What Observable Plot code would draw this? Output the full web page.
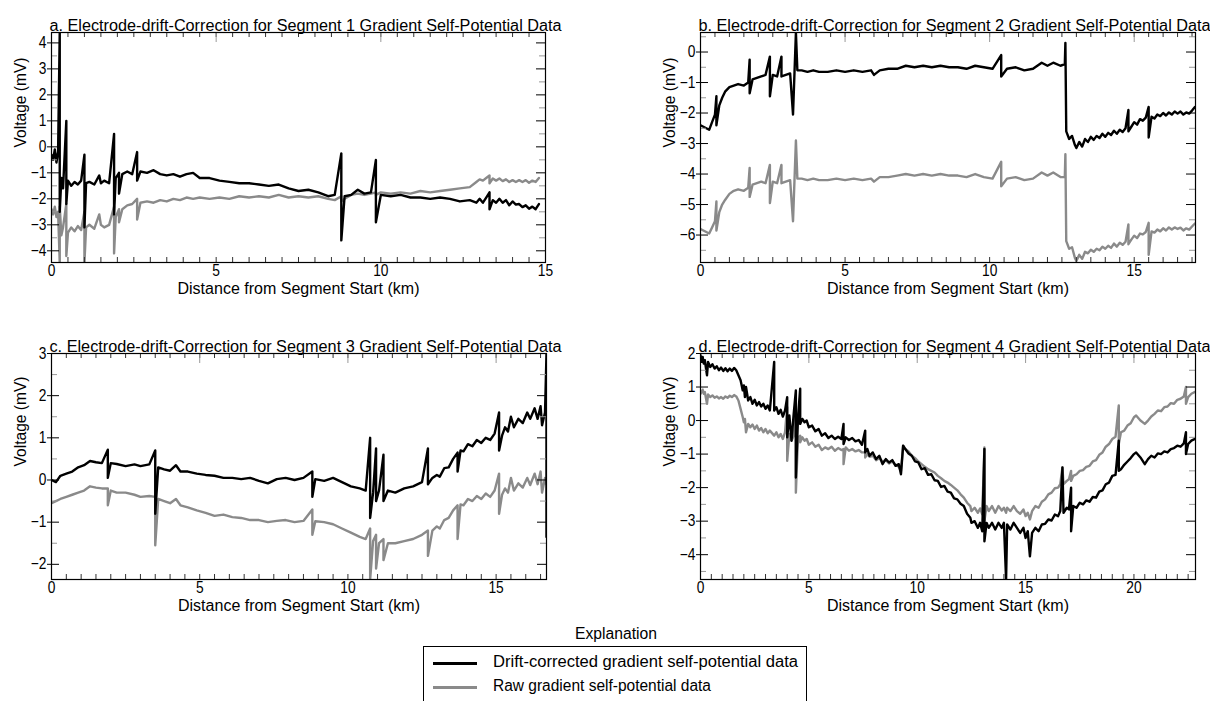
<!DOCTYPE html>
<html><head><meta charset="utf-8">
<script src="https://cdn.jsdelivr.net/npm/d3@7"></script>
<script src="https://cdn.jsdelivr.net/npm/@observablehq/plot@0.6"></script>
<style>
html,body{margin:0;padding:0;background:#fff;overflow:hidden;width:1210px;height:701px;}
#root{position:relative;width:1210px;height:701px;}
.panel{position:absolute;}
.ltext{position:absolute;white-space:nowrap;color:#000;line-height:1;transform-origin:0 50%;}
.legend-box{position:absolute;border:1px solid #000;box-sizing:border-box;background:#fff;}
.legend-line{position:absolute;height:3px;}
</style></head><body><div id="root"></div>
<script>
// ---------------- data ----------------
// rows: [distance km, drift-corrected mV, raw mV]
const segment1 = [
[0,-0.3,-2.4],[0.05,-0.5,-2.6],[0.1,-0.1,-2.3],[0.15,-0.6,-2.7],[0.2,-0.2,-2.5],
[0.25,4.4,-4.45],[0.25,-2.5,-2.3],[0.3,-1.2,-3.4],[0.35,-1.6,-3.1],[0.45,1.0,-2.2],
[0.45,-2.2,-4.2],[0.5,-1.3,-3.3],[0.6,-1.5,-3.1],[0.7,-1.35,-3.25],[0.8,-1.45,-3.05],
[0.9,-1.3,-3.2],[1.0,-0.3,-2.5],[1.0,-3.1,-4.45],[1.05,-1.4,-3.1],[1.15,-1.35,-3.0],
[1.3,-1.45,-3.15],[1.45,-1.1,-2.6],[1.5,-1.4,-3.0],[1.6,-1.3,-3.1],[1.75,-1.4,-3.0],
[1.9,0.5,-2.3],[1.9,-2.6,-4.1],[1.95,-1.2,-2.7],[2.05,-1.0,-2.4],[2.05,-1.8,-2.9],
[2.15,-1.05,-2.4],[2.3,-0.95,-2.25],[2.45,-1.05,-2.2],[2.6,-0.2,-2.0],[2.6,-1.3,-2.8],
[2.7,-0.95,-2.15],[2.9,-1.0,-2.1],[3.1,-0.9,-2.15],[3.3,-1.05,-2.05],[3.5,-1.1,-2.1],
[3.7,-1.05,-2.0],[3.9,-1.15,-2.05],[4.1,-1.05,-1.95],[4.3,-1.0,-2.0],[4.5,-1.2,-1.95],
[4.8,-1.2,-2.0],[5.1,-1.3,-1.95],[5.4,-1.35,-2.0],[5.7,-1.4,-1.9],[6.0,-1.4,-1.95],
[6.3,-1.45,-1.9],[6.6,-1.5,-1.95],[6.9,-1.45,-1.85],[7.2,-1.6,-1.95],[7.5,-1.7,-1.9],
[7.8,-1.65,-1.95],[8.1,-1.75,-1.9],[8.4,-1.9,-2.0],[8.6,-1.85,-2.05],[8.8,-0.25,-1.9],
[8.8,-3.6,-2.1],[8.9,-1.9,-2.0],[9.1,-1.85,-1.85],[9.3,-1.65,-1.8],[9.5,-1.8,-1.85],
[9.7,-1.75,-1.8],[9.85,-0.5,-1.75],[9.85,-2.9,-1.85],[10.0,-1.85,-1.75],[10.3,-1.9,-1.8],
[10.6,-1.85,-1.75],[10.9,-1.95,-1.8],[11.2,-1.95,-1.7],[11.5,-2.0,-1.75],[11.8,-1.95,-1.7],
[12.1,-2.0,-1.65],[12.4,-2.1,-1.6],[12.7,-2.05,-1.55],[12.9,-2.15,-1.35],[13.0,-2.0,-1.25],
[13.1,-2.15,-1.3],[13.2,-1.95,-1.2],[13.3,-1.75,-1.1],[13.3,-2.4,-1.4],[13.4,-2.05,-1.22],
[13.5,-2.15,-1.3],[13.6,-2.0,-1.22],[13.7,-2.15,-1.32],[13.8,-2.05,-1.25],[13.9,-2.25,-1.35],
[14.0,-2.1,-1.28],[14.1,-2.22,-1.35],[14.2,-2.2,-1.28],[14.3,-2.32,-1.35],[14.4,-2.25,-1.28],
[14.5,-2.38,-1.38],[14.6,-2.3,-1.3],[14.7,-2.4,-1.35],[14.8,-2.2,-1.2]
];
const segment2 = [
[0,-2.4,-5.8],[0.1,-2.45,-5.85],[0.2,-2.5,-5.9],[0.3,-2.55,-5.95],[0.4,-2.3,-5.75],
[0.5,-2.05,-5.55],[0.55,-1.45,-4.9],[0.55,-2.4,-5.85],[0.65,-1.75,-5.25],[0.75,-1.5,-5.0],
[0.85,-1.3,-4.85],[1.0,-1.15,-4.65],[1.15,-1.1,-4.55],[1.3,-1.05,-4.5],[1.5,-1.1,-4.55],
[1.65,-1.0,-4.45],[1.7,-0.25,-3.8],[1.7,-1.35,-4.75],[1.8,-0.9,-4.35],[1.95,-0.85,-4.3],
[2.1,-0.8,-4.25],[2.25,-0.75,-4.3],[2.4,-0.15,-3.7],[2.4,-1.45,-4.95],[2.5,-0.75,-4.25],
[2.65,-0.8,-4.3],[2.8,-0.15,-3.7],[2.8,-0.8,-4.3],[2.95,-0.75,-4.25],[3.1,-0.7,-4.2],
[3.2,-2.05,-5.55],[3.3,0.64,-2.9],[3.35,-0.6,-4.15],[3.5,-0.6,-4.15],[3.7,-0.65,-4.2],
[3.9,-0.6,-4.15],[4.1,-0.65,-4.2],[4.4,-0.65,-4.2],[4.7,-0.6,-4.15],[5.0,-0.65,-4.2],
[5.3,-0.6,-4.15],[5.6,-0.65,-4.2],[5.9,-0.6,-4.15],[6.0,-0.75,-4.25],[6.2,-0.6,-4.1],
[6.5,-0.55,-4.1],[6.8,-0.55,-4.05],[7.1,-0.45,-4.0],[7.4,-0.5,-4.05],[7.7,-0.45,-4.0],
[8.0,-0.5,-4.05],[8.3,-0.45,-4.0],[8.6,-0.5,-4.05],[8.9,-0.5,-4.05],[9.2,-0.55,-4.1],
[9.5,-0.45,-4.0],[9.8,-0.5,-4.1],[10.1,-0.55,-4.15],[10.4,-0.1,-3.6],[10.4,-0.8,-4.4],
[10.6,-0.55,-4.15],[10.9,-0.5,-4.1],[11.2,-0.6,-4.2],[11.5,-0.55,-4.15],[11.8,-0.35,-3.95],
[12.0,-0.45,-4.05],[12.2,-0.35,-3.95],[12.45,-0.45,-4.1],[12.6,-0.4,-4.1],[12.62,0.3,-3.35],
[12.65,-2.6,-6.2],[12.75,-2.85,-6.45],[12.85,-2.75,-6.4],[12.95,-3.05,-6.75],[13.0,-3.15,-6.85],
[13.1,-2.95,-6.65],[13.2,-3.1,-6.78],[13.3,-2.85,-6.55],[13.4,-2.95,-6.6],[13.5,-2.78,-6.48],
[13.6,-2.88,-6.55],[13.7,-2.75,-6.45],[13.8,-2.82,-6.5],[13.9,-2.68,-6.38],[14.0,-2.78,-6.45],
[14.1,-2.65,-6.35],[14.2,-2.72,-6.42],[14.3,-2.58,-6.28],[14.4,-2.68,-6.38],[14.5,-2.55,-6.25],
[14.6,-2.62,-6.32],[14.7,-2.5,-6.22],[14.8,-1.9,-5.65],[14.8,-2.6,-6.3],[14.9,-2.45,-6.15],
[15.0,-2.3,-6.02],[15.1,-2.38,-6.1],[15.2,-2.2,-5.95],[15.3,-2.25,-5.98],[15.4,-2.15,-5.9],
[15.5,-1.8,-5.6],[15.5,-2.8,-6.65],[15.6,-2.12,-5.88],[15.7,-2.18,-5.92],[15.8,-2.05,-5.82],
[15.9,-2.1,-5.88],[16.0,-2.0,-5.78],[16.1,-2.08,-5.85],[16.2,-1.98,-5.75],[16.3,-2.05,-5.82],
[16.4,-1.95,-5.75],[16.5,-2.02,-5.8],[16.6,-1.95,-5.76],[16.7,-2.05,-5.85],[16.8,-1.98,-5.78],
[16.9,-2.02,-5.82],[17.0,-1.92,-5.72],[17.1,-1.8,-5.62]
];
const segment3 = [
[0,0.0,-0.55],[0.15,-0.05,-0.5],[0.3,0.1,-0.45],[0.5,0.15,-0.4],[0.7,0.2,-0.35],
[0.9,0.3,-0.3],[1.1,0.35,-0.25],[1.3,0.45,-0.15],[1.5,0.42,-0.18],[1.7,0.4,-0.2],
[1.9,0.72,-0.2],[1.9,0.05,-0.6],[2.0,0.4,-0.25],[2.2,0.38,-0.3],[2.5,0.33,-0.3],
[2.8,0.37,-0.35],[3.0,0.33,-0.4],[3.3,0.37,-0.38],[3.5,0.7,-0.4],[3.5,-0.8,-1.55],
[3.6,0.3,-0.45],[3.8,0.25,-0.5],[4.0,0.22,-0.55],[4.2,0.35,-0.45],[4.35,0.2,-0.6],
[4.6,0.2,-0.65],[4.9,0.15,-0.72],[5.2,0.12,-0.78],[5.5,0.1,-0.85],[5.8,0.05,-0.82],
[6.1,0.05,-0.88],[6.4,0.02,-0.9],[6.7,0.05,-0.95],[7.0,-0.02,-0.95],[7.3,-0.08,-1.0],
[7.6,0.02,-0.97],[7.9,0.05,-0.95],[8.2,0.0,-1.0],[8.5,0.05,-0.97],[8.8,0.2,-0.7],
[8.8,-0.4,-1.3],[8.9,0.02,-0.98],[9.2,-0.02,-1.0],[9.5,0.05,-1.05],[9.8,-0.05,-1.15],
[10.1,-0.15,-1.25],[10.4,-0.2,-1.35],[10.6,-0.25,-1.4],[10.75,1.0,-1.15],[10.75,-0.9,-2.36],
[10.85,-0.3,-1.45],[10.95,0.75,-1.3],[10.95,-0.5,-2.1],[11.05,-0.25,-1.5],[11.2,0.6,-1.4],
[11.2,-0.5,-1.9],[11.35,-0.25,-1.5],[11.6,-0.3,-1.5],[11.9,-0.2,-1.45],[12.2,-0.15,-1.4],
[12.5,-0.05,-1.3],[12.7,0.75,-1.2],[12.7,-0.1,-1.8],[12.85,0.05,-1.2],[13.0,0.12,-1.1],
[13.1,0.08,-1.15],[13.25,0.28,-0.95],[13.4,0.3,-0.9],[13.55,0.5,-0.72],[13.7,0.65,-0.6],
[13.7,0.2,-1.4],[13.8,0.7,-0.58],[13.9,0.68,-0.6],[14.05,0.85,-0.45],[14.2,0.8,-0.5],
[14.35,0.95,-0.38],[14.5,0.88,-0.45],[14.65,1.0,-0.32],[14.8,0.95,-0.4],[14.95,1.1,-0.25],
[15.1,1.6,0.15],[15.1,0.7,-0.8],[15.2,1.05,-0.35],[15.3,1.25,-0.2],[15.4,1.15,-0.3],
[15.5,1.5,0.05],[15.6,1.25,-0.25],[15.75,1.45,-0.08],[15.9,1.35,-0.18],[16.05,1.6,0.05],
[16.15,1.45,-0.12],[16.3,1.7,0.15],[16.4,1.45,-0.1],[16.5,1.75,0.2],[16.55,1.3,-0.3],
[16.65,1.6,0.05],[16.7,3.0,0.0],[16.7,-1.35,-0.1]
];
const segment4 = [
[0,1.95,0.8],[0.05,1.75,0.85],[0.1,1.9,0.92],[0.15,1.7,0.8],[0.2,1.8,0.85],[0.3,1.35,0.5],
[0.35,1.75,0.78],[0.45,1.6,0.7],[0.55,1.68,0.75],[0.65,1.55,0.68],[0.75,1.62,0.72],[0.85,1.5,0.66],
[0.95,1.58,0.7],[1.05,1.48,0.65],[1.15,1.56,0.72],[1.25,1.47,0.68],[1.35,1.55,0.74],[1.45,1.48,0.7],
[1.55,1.57,0.76],[1.65,1.5,0.72],[1.75,1.35,0.6],[1.85,1.2,0.35],[1.95,0.9,0.1],[2.0,1.05,-0.05],
[2.05,0.7,0.05],[2.1,1.0,-0.35],[2.2,0.6,-0.1],[2.3,0.7,-0.2],[2.4,0.5,-0.12],[2.5,0.62,-0.25],
[2.6,0.45,-0.15],[2.7,0.55,-0.3],[2.8,0.42,-0.22],[2.9,0.5,-0.35],[3.0,0.35,-0.25],[3.1,0.45,-0.38],
[3.2,0.3,-0.3],[3.4,1.75,-0.45],[3.4,0.3,-0.45],[3.5,0.4,-0.35],[3.6,0.2,-0.5],[3.7,0.32,-0.4],
[3.8,0.12,-0.55],[3.9,0.3,-0.35],[4.0,0.7,0.4],[4.0,-0.5,-1.2],[4.1,0.15,-0.4],[4.2,-0.6,-0.6],
[4.3,0.2,-0.45],[4.4,0.9,0.2],[4.4,-1.7,-2.15],[4.5,0.1,-0.5],[4.6,0.95,-0.45],[4.6,-0.1,-0.65],
[4.7,0.05,-0.5],[4.8,-0.05,-0.6],[4.9,0.0,-0.55],[5.0,-0.2,-0.72],[5.15,-0.15,-0.65],[5.3,-0.32,-0.78],
[5.45,-0.25,-0.72],[5.6,-0.45,-0.88],[5.75,-0.38,-0.8],[5.9,-0.52,-0.85],[6.05,-0.45,-0.78],[6.2,-0.55,-0.9],
[6.35,-0.48,-0.82],[6.5,-0.55,-0.88],[6.6,-0.1,-0.85],[6.6,-0.7,-1.3],[6.7,-0.5,-0.8],[6.85,-0.58,-0.9],
[7.0,-0.52,-0.85],[7.15,-0.62,-0.92],[7.3,-0.58,-0.88],[7.45,-0.72,-0.95],[7.6,-0.3,-0.95],[7.6,-0.95,-1.1],
[7.7,-0.85,-1.0],[7.8,-1.05,-1.08],[7.95,-0.95,-1.05],[8.1,-1.15,-1.18],[8.25,-1.05,-1.12],[8.4,-1.3,-1.22],
[8.55,-1.15,-1.18],[8.7,-1.25,-1.28],[8.85,-1.18,-1.22],[9.0,-1.35,-1.32],[9.15,-1.3,-1.38],[9.25,-1.6,-1.5],
[9.35,-0.75,-0.75],[9.45,-0.85,-0.85],[9.6,-0.98,-0.92],[9.75,-1.05,-1.05],[9.9,-1.22,-1.12],[10.05,-1.25,-1.22],
[10.2,-1.45,-1.3],[10.35,-1.42,-1.38],[10.5,-1.62,-1.45],[10.65,-1.6,-1.5],[10.8,-1.78,-1.55],[10.95,-1.8,-1.65],
[11.1,-1.98,-1.72],[11.25,-1.95,-1.8],[11.4,-2.12,-1.85],[11.55,-2.15,-1.92],[11.7,-2.32,-2.0],[11.85,-2.35,-2.08],
[12.0,-2.48,-2.2],[12.15,-2.55,-2.3],[12.3,-2.78,-2.45],[12.45,-2.9,-2.55],[12.5,-3.05,-2.7],[12.65,-3.0,-2.6],
[12.8,-3.2,-2.75],[12.9,-3.05,-2.62],[13.0,-3.3,-2.8],[13.1,-0.85,-0.8],[13.1,-3.6,-3.0],[13.2,-3.05,-2.55],
[13.3,-3.2,-2.7],[13.45,-3.05,-2.55],[13.6,-3.25,-2.75],[13.75,-3.05,-2.55],[13.9,-3.2,-2.68],[14.0,-3.05,-2.6],
[14.1,-4.74,-2.75],[14.15,-3.1,-2.6],[14.3,-3.25,-2.7],[14.45,-3.05,-2.55],[14.6,-3.2,-2.7],[14.75,-3.35,-2.78],
[14.9,-3.2,-2.65],[15.0,-3.5,-2.85],[15.1,-3.3,-2.75],[15.2,-4.05,-2.95],[15.3,-3.35,-2.7],[15.45,-3.2,-2.55],
[15.6,-3.3,-2.6],[15.75,-3.1,-2.42],[15.9,-3.08,-2.35],[16.05,-2.95,-2.2],[16.2,-2.98,-2.15],[16.35,-2.8,-2.02],
[16.5,-2.85,-2.0],[16.6,-2.7,-1.9],[16.7,-1.4,-1.4],[16.75,-2.75,-1.9],[16.9,-2.6,-1.8],[17.0,-2.65,-1.75],
[17.1,-2.0,-1.5],[17.1,-3.3,-1.8],[17.2,-2.55,-1.65],[17.35,-2.6,-1.6],[17.5,-2.45,-1.5],[17.65,-2.5,-1.48],
[17.8,-2.38,-1.38],[17.95,-2.42,-1.35],[18.1,-2.28,-1.22],[18.25,-2.3,-1.18],[18.4,-2.12,-1.02],[18.55,-2.08,-0.95],
[18.7,-1.9,-0.78],[18.85,-1.85,-0.7],[19.0,-1.65,-0.55],[19.15,-1.62,-0.48],[19.3,-0.6,0.45],[19.3,-1.5,-0.7],
[19.4,-1.45,-0.35],[19.55,-1.32,-0.3],[19.7,-1.22,-0.15],[19.85,-1.12,-0.08],[20.0,-1.0,0.1],[20.1,-0.95,0.15],
[20.3,-1.1,0.0],[20.5,-1.3,-0.1],[20.65,-1.15,0.0],[20.8,-1.05,0.12],[20.95,-1.1,0.2],[21.1,-0.98,0.3],
[21.25,-1.0,0.28],[21.4,-0.92,0.4],[21.55,-0.95,0.42],[21.7,-0.85,0.52],[21.85,-0.82,0.5],[22.0,-0.75,0.62],
[22.15,-0.78,0.65],[22.3,-0.68,0.72],[22.4,-0.35,1.0],[22.4,-1.0,0.5],[22.5,-0.7,0.7],[22.65,-0.6,0.8],
[22.8,-0.55,0.85]
];
const titles = [
  "a. Electrode-drift-Correction for Segment 1 Gradient Self-Potential Data",
  "b. Electrode-drift-Correction for Segment 2 Gradient Self-Potential Data",
  "c. Electrode-drift-Correction for Segment 3 Gradient Self-Potential Data",
  "d. Electrode-drift-Correction for Segment 4 Gradient Self-Potential Data"
];
const xTickLabels = [[0,5,10,15],[0,5,10,15],[0,5,10,15],[0,5,10,15,20]];
const xDomains = [[0,15],[0,17.12],[0,16.7],[0,22.84]];
const yDomains = [[-4.45,4.4],[-6.9,0.64],[-2.36,3.0],[-4.74,2.0]];
const xLabel = "Distance from Segment Start (km)";
const yLabel = "Voltage (mV)";
const legendTitle = "Explanation";
const seriesNames = ["Drift-corrected gradient self-potential data","Raw gradient self-potential data"];
const seriesColors = ["#000000","#8a8a8a"];

// ---------------- layout ----------------
const FONT = "'Liberation Sans', Arial, sans-serif";
const FS = 16;
const fmt = d => d < 0 ? "\u2212" + Math.abs(d) : String(d);

const layouts = [
  {left:0, top:0, width:600, height:300, ml:51, mr:55, mt:32, mb:38},
  {left:600, top:0, width:610, height:300, ml:100, mr:15, mt:32, mb:38},
  {left:0, top:320, width:600, height:300, ml:51, mr:54, mt:33, mb:41},
  {left:600, top:320, width:610, height:300, ml:100, mr:15, mt:33, mb:41}
];
const segments = [segment1, segment2, segment3, segment4];
const root = document.getElementById("root");

function condense(svg, i) {
  svg.querySelectorAll("text").forEach(t => {
    const s = t.textContent;
    const w = t.getComputedTextLength();
    if (!w) return;
    let target;
    if (s === titles[i]) target = 512;
    else if (s === xLabel) target = 242;
    else if (s === yLabel) target = 90;
    else target = w * 0.86;
    t.setAttribute("textLength", target);
    t.setAttribute("lengthAdjust", "spacingAndGlyphs");
  });
}

segments.forEach((rows, i) => {
  const L = layouts[i];
  const innerW = L.width - L.ml - L.mr, innerH = L.height - L.mt - L.mb;
  const [x0, x1] = xDomains[i], [y0, y1] = yDomains[i];
  const xMinor = d3.range(Math.ceil(x0 * 2) / 2, x1 + 1e-9, 0.5).filter(v => v > x0 && v < x1);
  const yAll = d3.range(Math.ceil(y0 * 2) / 2, y1 + 1e-9, 0.5);
  const yInt = yAll.filter(v => Number.isInteger(v));
  const yHalf = yAll.filter(v => !Number.isInteger(v) && v > y0 && v < y1);
  const xFive = xTickLabels[i].filter(v => v > x0 && v < x1);
  const svg = Plot.plot({
    width: L.width, height: L.height,
    marginLeft: L.ml, marginRight: L.mr, marginTop: L.mt, marginBottom: L.mb,
    x: {domain: xDomains[i]}, y: {domain: yDomains[i]},
    style: {fontFamily: FONT, fontSize: FS + "px", color: "#000", background: "transparent", overflow: "visible"},
    marks: [
      Plot.line(rows, {x: d => d[0], y: d => d[2], stroke: seriesColors[1], strokeWidth: 2.4, clip: true}),
      Plot.line(rows, {x: d => d[0], y: d => d[1], stroke: seriesColors[0], strokeWidth: 2.4, clip: true}),
      Plot.tickX(xMinor, {x: d => d, insetTop: innerH - 5, stroke: "#333"}),
      Plot.tickX(xMinor, {x: d => d, insetBottom: innerH - 5, stroke: "#333"}),
      Plot.tickX(xFive, {x: d => d, insetBottom: innerH - 10, stroke: "#999"}),
      Plot.tickY(yInt, {y: d => d, insetRight: innerW - 12, dx: -4, stroke: "#000"}),
      Plot.tickY(yHalf, {y: d => d, insetRight: innerW - 6, stroke: "#999"}),
      Plot.tickY(yInt, {y: d => d, insetLeft: innerW - 9, stroke: "#000"}),
      Plot.tickY(yHalf, {y: d => d, insetLeft: innerW - 6, stroke: "#999"}),
      Plot.frame({stroke: "#000", strokeWidth: 1.2}),
      Plot.axisX(xTickLabels[i], {anchor: "bottom", tickSize: 0, tickPadding: 2, tickFormat: fmt, fontSize: FS}),
      Plot.axisY(yInt, {anchor: "left", tickSize: 0, tickPadding: 5, tickFormat: fmt, fontSize: FS}),
      Plot.text([titles[i]], {text: d => d, frameAnchor: "top-left", textAnchor: "start", lineAnchor: "bottom", dx: -2, dy: -2, fontSize: FS}),
      Plot.text([xLabel], {text: d => d, frameAnchor: "bottom", lineAnchor: "middle", dy: 26, fontSize: FS}),
      Plot.text([yLabel], {text: d => d, frameAnchor: "left", rotate: -90, dx: -31, fontSize: FS})
    ]
  });
  const div = document.createElement("div");
  div.className = "panel";
  div.style.left = L.left + "px"; div.style.top = L.top + "px";
  div.appendChild(svg);
  root.appendChild(div);
  condense(svg, i);
});

// ---------------- legend ----------------
function addText(str, left, cy, targetW) {
  const el = document.createElement("div");
  el.className = "ltext";
  el.textContent = str;
  el.style.fontFamily = FONT; el.style.fontSize = FS + "px";
  el.style.left = left + "px"; el.style.top = (cy - FS * 0.55) + "px";
  root.appendChild(el);
  const w = el.getBoundingClientRect().width;
  el.style.transform = `scaleX(${targetW / w})`;
  return el;
}
const box = document.createElement("div");
box.className = "legend-box";
Object.assign(box.style, {left: "423px", top: "646px", width: "384px", height: "70px"});
root.appendChild(box);
addText(legendTitle, 575, 635, 82);
seriesNames.forEach((name, k) => {
  const cy = 663 + k * 24;
  const ln = document.createElement("div");
  ln.className = "legend-line";
  Object.assign(ln.style, {left: "433px", width: "44px", top: (cy - 1.5) + "px", background: seriesColors[k]});
  root.appendChild(ln);
  addText(name, 493, cy, k === 0 ? 305 : 218);
});
</script>
</body></html>
